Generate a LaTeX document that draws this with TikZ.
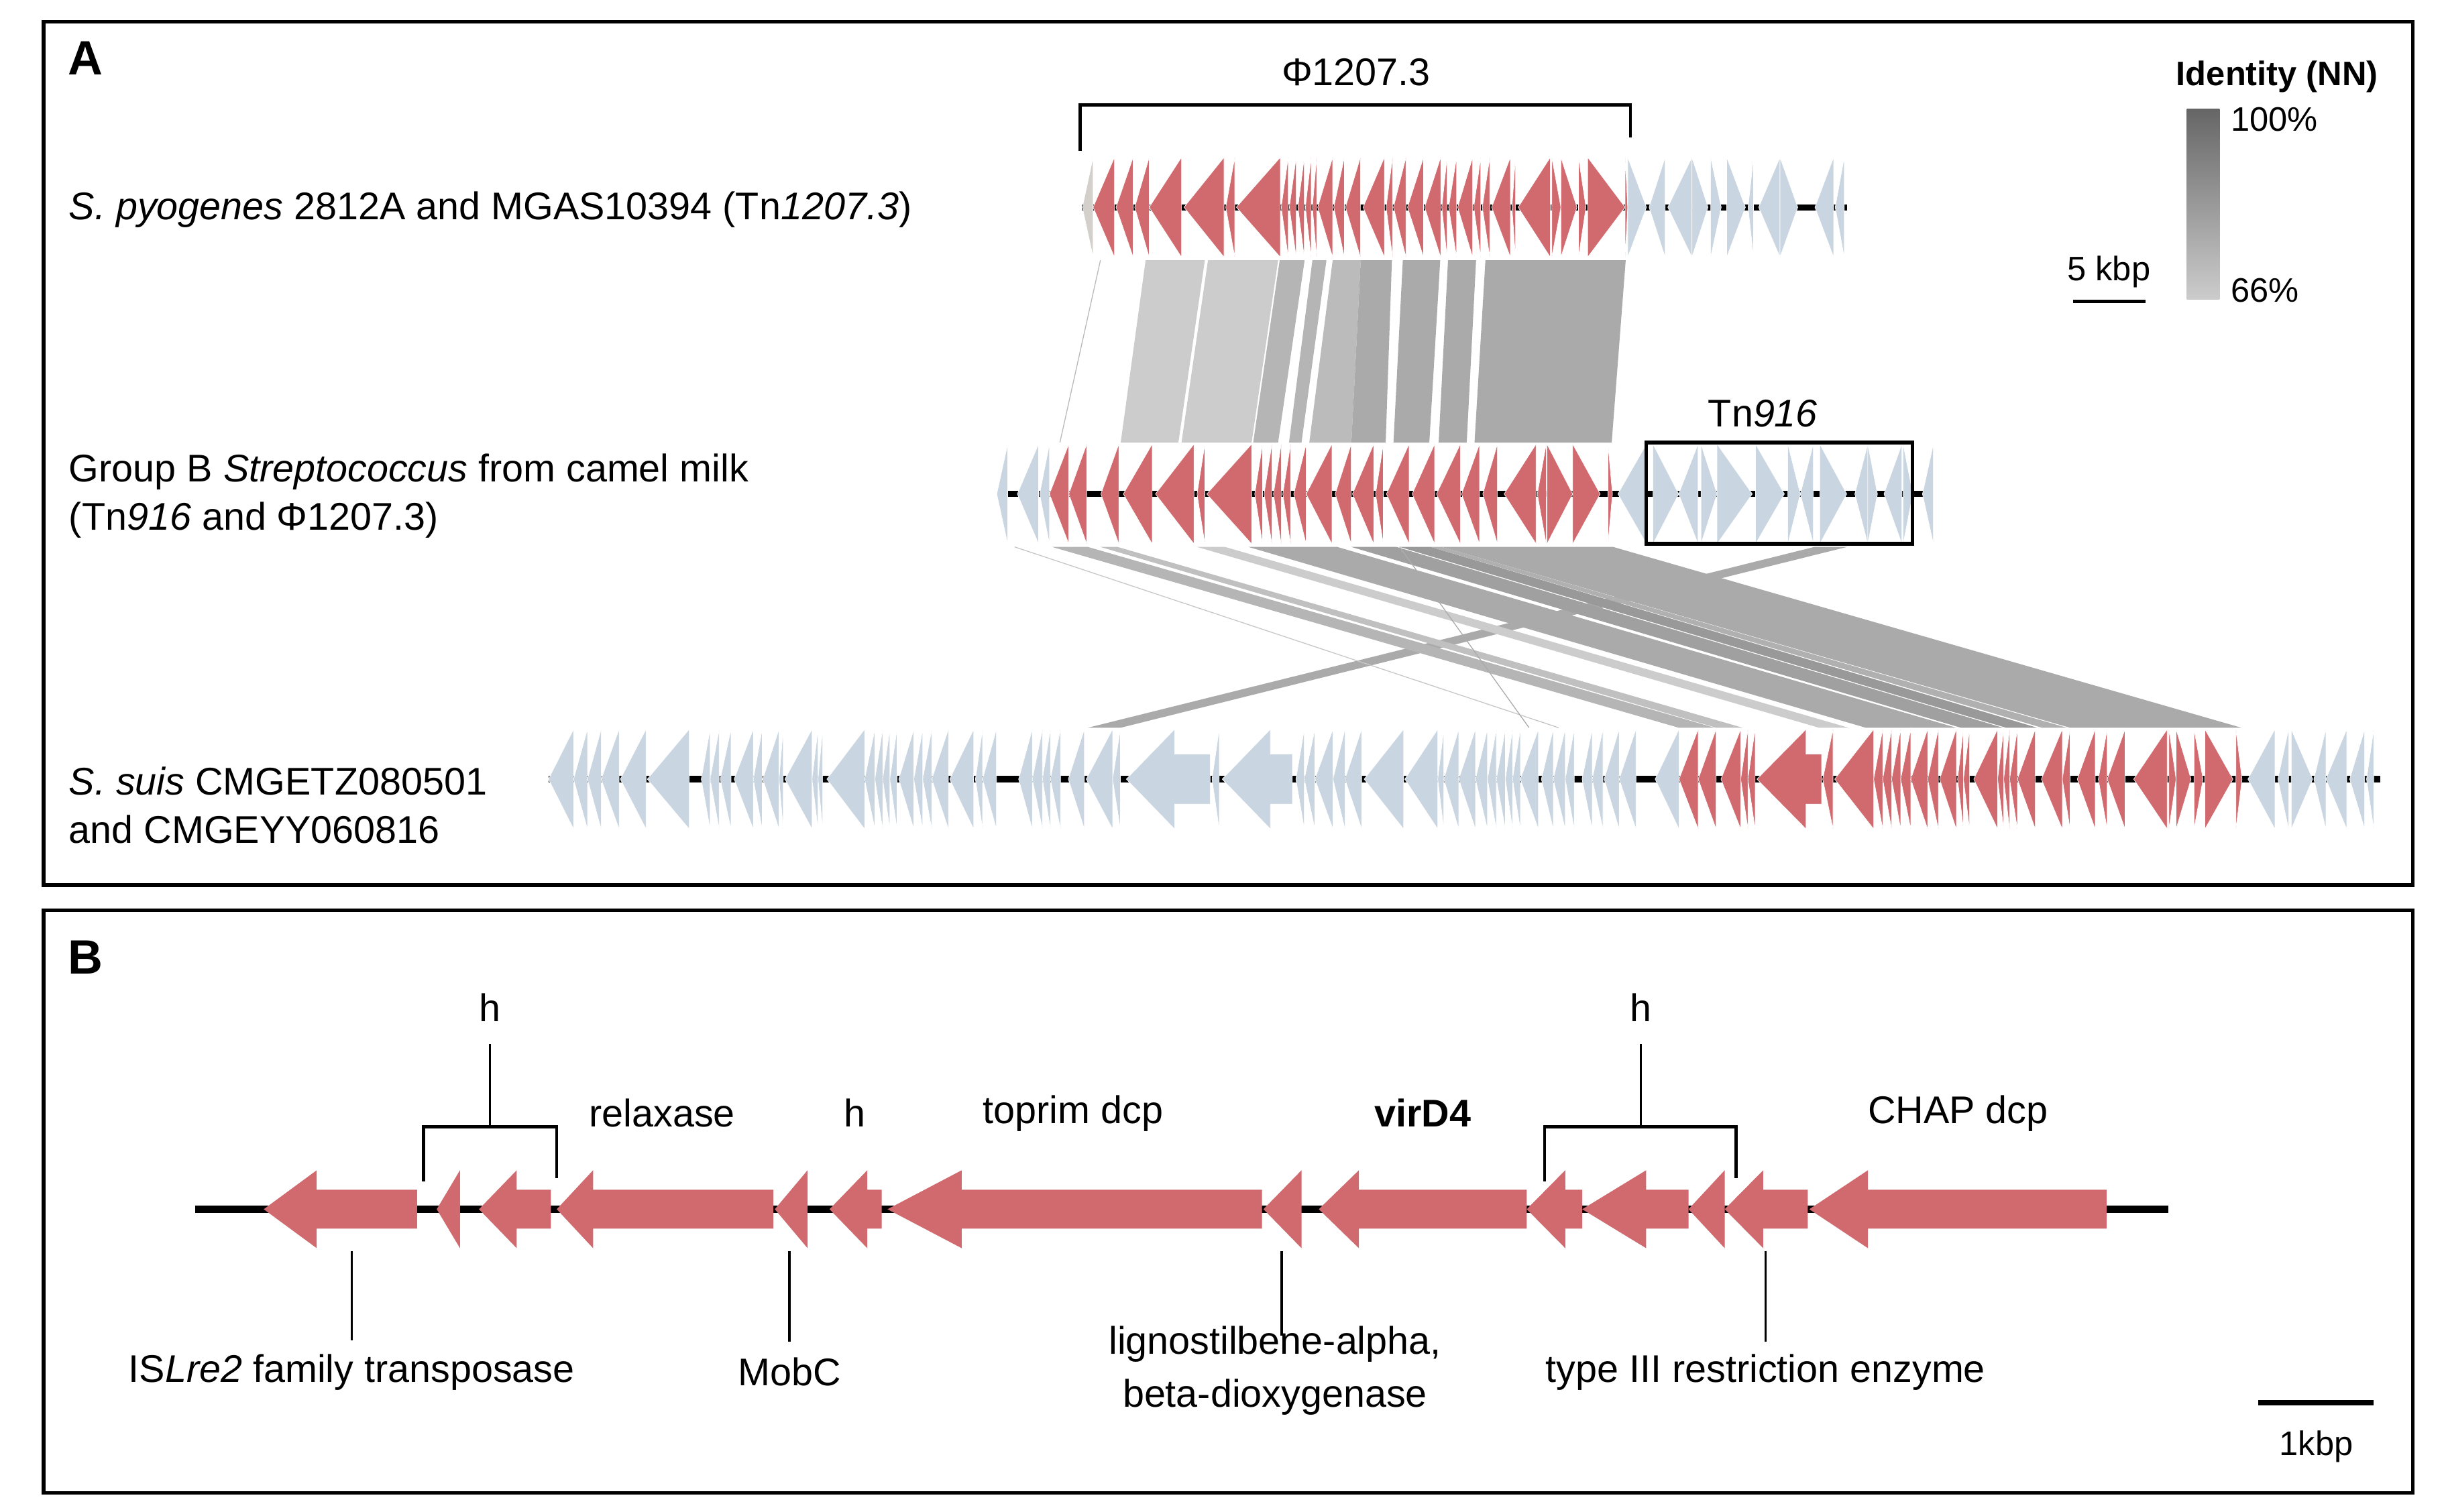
\documentclass[tikz,border=0pt]{standalone}
\usepackage{fontspec}
\setmainfont{Liberation Sans}
\usetikzlibrary{positioning}
\definecolor{genered}{HTML}{D06A6E}
\definecolor{geneblue}{HTML}{C9D5E0}
\definecolor{genegrey}{HTML}{D3D0CB}
\definecolor{idhi}{HTML}{666666}
\definecolor{idlo}{HTML}{CCCCCC}
\begin{document}
\begin{tikzpicture}[x=0.25mm, y=-0.25mm,
        lab/.style = {font=\fontsize{17.6}{21}\selectfont, inner sep=0pt},
        leg/.style = {font=\fontsize{15.5}{18}\selectfont, inner sep=0pt},
        panel/.style = {font=\fontsize{22}{26}\selectfont\bfseries, inner sep=0pt},
        frame/.style = {draw, line width=1.6pt},
        genome/.style = {line width=2.8pt},
        redg/.style = {fill=genered, draw=white, line width=0.2pt},
        blueg/.style = {fill=geneblue, draw=white, line width=0.2pt},
        greyg/.style = {fill=genegrey, draw=white, line width=0.2pt},
        armg/.style = {fill=genered},
        brace/.style = {line width=1.4pt},
        tick/.style = {line width=1pt}]
        \useasboundingbox (0,0) rectangle (1568,970);

        \draw[frame] (28,14) rectangle (1548,568);
        \draw[frame] (28,584) rectangle (1548,958);
        \node[panel, anchor=base] (pa) at (55,48) {A};
        \node[panel, anchor=base] (pb) at (55,625) {B};

        \node[lab, anchor=base west] (spyo) at (44,141) {\textit{S. pyogenes} 2812A and MGAS10394 (Tn\textit{1207.3})};
        \node[lab, anchor=base west] (gbs1) at (44,309) {Group B \textit{Streptococcus} from camel milk};
        \node[lab, anchor=base west] (gbs2) at (44,340) {(Tn\textit{916} and Φ1207.3)};
        \node[lab, anchor=base west] (suis1) at (44,510) {\textit{S. suis} CMGETZ080501};
        \node[lab, anchor=base west] (suis2) at (44,541) {and CMGEYY060816};

        \node[lab, anchor=base] (phi) at (870,55) {Φ1207.3};
        \coordinate (phil) at (693,97);
        \coordinate (phir) at (1046,88);
        \draw[brace] (phil) -- (693,67.4) -- (1046,67.4) -- (phir);

        \node[leg, anchor=base] (ident) at (1461,55) {\textbf{Identity (NN)}};
        \shade[top color=idhi, bottom color=idlo] (1403,70) rectangle (1424,192);
        \node[leg, anchor=base west] (hi) at (1431,84) {100\%};
        \node[leg, anchor=base west] (lo) at (1431,194) {66\%};
        \node[leg, anchor=base] (kb5) at (1353,180) {5 kbp};
        \coordinate (kb5a) at (1330,193.5);
        \coordinate (kb5b) at (1376.5,193.5);
        \draw[brace] (kb5a) -- (kb5b);

        \foreach \ta/\tb/\ba/\bb/\c in {735/773/719/756/CCCCCC, 775/820/758/803/CCCCCC,
                821/837/804/820/B5B5B5, 842/851/827/835/B5B5B5, 855/873/840/867/BBBBBB,
                873/893/867/889/AAAAAA, 900/924/894/917/AAAAAA, 929/947/923/941/AAAAAA,
                953/1043/946/1034/AAAAAA}{
            \definecolor{lnk}{HTML}{\c}
            \fill[lnk] (\ta,167) -- (\tb,167) -- (\bb,284) -- (\ba,284) -- cycle;
        }
        \draw[line width=0.4pt, black!27] (706,167) -- (680,284);

        \foreach \ta/\tb/\ba/\bb/\c in {1164/1185/698/719/AAAAAA, 675/698/1077/1100/B5B5B5,
                706/717/1101/1118/C0C0C0, 768/786/1167/1186/CCCCCC, 801/858/1197/1255/AAAAAA,
                867/896/1258/1285/A0A0A0, 898/918/1287/1307/999999, 918/925/1310/1326/B0B0B0,
                925/1035/1328/1438/AAAAAA}{
            \definecolor{lnk}{HTML}{\c}
            \fill[lnk] (\ta,351) -- (\tb,351) -- (\bb,467) -- (\ba,467) -- cycle;
        }
        \draw[line width=0.4pt, black!22] (651,351) -- (1000,467);
        \draw[line width=0.4pt, black!33] (898,351) -- (981,467);

        \draw[genome] (694,133) -- (1185,133);
        \fill[greyg] (694.4,133) -- (701.3,101) -- (701.3,165) -- cycle;
        \foreach \a/\b in {701.3/715, 716/727, 728/737.3, 737.3/758, 759.6/785.3, 786.4/792.2,
                793.2/821.4, 822/826.5, 827.2/831.6, 832.7/836.8, 837.5/841.2, 842/844.7,
                845.4/855, 855.7/862.5, 863.2/872.8, 874.5/888.2, 889.3/893.4, 894/902,
                903/913.3, 914/924.3, 925/928.4, 929.4/934.5, 935.2/944.8, 945.5/950,
                951/955.8, 957/969, 970/972.3, 974/994.6}
            \fill[redg] (\a,133) -- (\b,101) -- (\b,165) -- cycle;
        \foreach \a/\b in {995.6/1001.4, 1001.4/1011.7, 1012.7/1017.5, 1018.6/1042.6, 1042.6/1044.3}
            \fill[redg] (\a,101) -- (\b,133) -- (\a,165) -- cycle;
        \foreach \a/\b in {1058/1068.3, 1070/1085.5, 1121.5/1125, 1128.3/1142, 1164.4/1176.4, 1177.4/1183.2}
            \fill[blueg] (\a,133) -- (\b,101) -- (\b,165) -- cycle;
        \foreach \a/\b in {1044.3/1056.3, 1085.5/1095.8, 1097.5/1104.3, 1107.8/1119.8, 1142/1153.4}
            \fill[blueg] (\a,101) -- (\b,133) -- (\a,165) -- cycle;

        \draw[genome] (640,317) -- (1240,317);
        \foreach \a/\b in {639.5/646.5, 652.7/666.3, 667/673.3, 1038/1056.3, 1077/1089.4,
                1155/1163.4, 1190/1198.3, 1208.7/1220.2, 1233.4/1240.4}
            \fill[blueg] (\a,317) -- (\b,285) -- (\b,349) -- cycle;
        \foreach \a/\b in {1060.5/1077, 1091.3/1101.6, 1101.6/1124.2, 1126.3/1144.8, 1147/1155,
                1167.5/1184.8, 1198.3/1204.5, 1221/1227.2}
            \fill[blueg] (\a,285) -- (\b,317) -- (\a,349) -- cycle;
        \foreach \a/\b in {673.3/685.7, 685.7/697.2, 706.3/717.8, 720.7/739.2, 741.3/766, 768/773,
                774.2/803, 805/810, 811/816, 817/822, 823/828, 830/838, 838/854.5, 856.6/866.9,
                867.7/881.3, 882.5/887.5, 889.5/904, 906/920.4, 921.6/936.9, 937.7/949.2,
                951.3/960.7, 965/985.5, 986.3/992}
            \fill[redg] (\a,317) -- (\b,285) -- (\b,349) -- cycle;
        \foreach \a/\b in {992.5/1009, 1009/1026.6, 1031.6/1034.5}
            \fill[redg] (\a,285) -- (\b,317) -- (\a,349) -- cycle;
        \node[lab, anchor=base] (tn) at (1131,274) {Tn\textit{916}};
        \draw[frame] (1056,284) rectangle (1227,349);

        \draw[genome] (352,500) -- (1527,500);
        \foreach \a/\b in {351.9/368, 368/376.9, 376.9/385.7, 385.7/397.2, 398/414.5, 415.3/442.2,
                449.9/455.6, 455.6/461.4, 462.1/469, 471/483.3, 483.3/489, 489.4/499.8,
                499.8/502.5, 503.6/521, 521/524.8, 524.8/527.8, 530.5/554.7, 554.7/561.3,
                561.3/566.3, 566.3/570.9, 570.9/575.5, 576.6/586.3, 586.3/592, 592/597.8,
                597.8/608.5, 609.3/624.7, 625.8/630.4, 630.4/639.3, 653.5/662.3, 662.3/668.8,
                668.8/673.9, 673.9/680.4, 685.4/695.7, 696.9/713.8, 713.8/718.8, 777.6/782.2,
                831.4/836.8, 836.8/843.6, 843.6/855.2, 855.2/862.9, 862.9/873.6, 875.2/900.5,
                901.3/922.4, 922.4/926.3, 926.3/935.9, 935.9/946.6, 946.6/954.3, 954.3/960,
                960/965.8, 965.8/970.4, 970.4/975.4, 975.4/987, 988.9/996.5, 996.5/1004.2,
                1004.2/1010, 1015/1021.5, 1021.5/1028.4, 1029.2/1038.8, 1038.8/1049.6,
                1061.9/1077.2, 1442.2/1459.5, 1461.4/1468.3, 1484.5/1492.2, 1492.2/1505.6,
                1507.5/1517.1, 1518.3/1522.9}
            \fill[blueg] (\a,500) -- (\b,468) -- (\b,532) -- cycle;
        \fill[blueg] (1470,468) -- (1483.7,500) -- (1470,532) -- cycle;
        \foreach \a/\b in {722.6/776.4, 784.1/829.1}
            \fill[blueg] (\a,500) -- (\a+31,468) -- (\a+31,484) -- (\b,484) -- (\b,516) -- (\a+31,516) -- (\a+31,532) -- cycle;
        \foreach \a/\b in {1077.2/1089.5, 1089.5/1101, 1104.1/1116.8, 1116.8/1121.4, 1121.4/1126,
                1169.4/1176, 1177.1/1202.1, 1202.1/1207.9, 1207.9/1213.6, 1213.6/1219.4,
                1219.4/1225.9, 1225.9/1236.7, 1236.7/1243.6, 1244.4/1255.1, 1255.9/1259.7,
                1259.7/1263.6, 1266.3/1281.6, 1281.6/1285.5, 1285.5/1289.3, 1289.3/1294.3,
                1294.3/1305.8, 1309.7/1323.1, 1323.1/1328.1, 1332.7/1344.2, 1346.2/1351.9,
                1351.9/1363.4, 1368.9/1390.4}
            \fill[redg] (\a,500) -- (\b,468) -- (\b,532) -- cycle;
        \fill[redg] (1127.2,500) -- (1158.7,468) -- (1158.7,484) -- (1168.7,484) -- (1168.7,516) -- (1158.7,516) -- (1158.7,532) -- cycle;
        \foreach \a/\b in {1391.5/1396.1, 1396.1/1405.7, 1407.6/1413.4, 1414.6/1432.6, 1434.5/1438.4}
            \fill[redg] (\a,468) -- (\b,500) -- (\a,532) -- cycle;

        \draw[line width=3.6pt] (125,776) -- (1391,776);
        \foreach \t/\h/\e in {169.2/203.2/267.6, 280.2/295.1/295.1, 307.3/331.5/353.4,
                357.2/380.5/496.2, 497.1/518.1/518.1, 532.2/556.4/565.7, 569.4/617/809.7,
                810.6/835/835, 846.1/871.8/979.5, 979.5/1004.2/1015.1, 1015.1/1056.1/1083.3,
                1083.3/1106.5/1106.5, 1106.5/1131.2/1159.8, 1160.8/1198.4/1351.5}
            \fill[armg] (\t,776) -- (\h,751) -- (\h,763.5) -- (\e,763.5) -- (\e,788.5) -- (\h,788.5) -- (\h,801) -- cycle;

        \coordinate (hb1) at (314.3,723);
        \draw[brace] (271.8,758) -- (271.8,723) -- (357.2,723) -- (357.2,756);
        \node[lab, anchor=south, inner ysep=3.5mm] (h1) at (314.3,670) {h};
        \draw[tick] (hb1) -- (h1.south);
        \coordinate (hb2) at (1052.6,723);
        \draw[brace] (990.9,758) -- (990.9,723) -- (1113.9,723) -- (1113.9,756);
        \node[lab, anchor=south, inner ysep=3.5mm] (h2) at (1052.6,670) {h};
        \draw[tick] (hb2) -- (h2.south);

        \node[lab, anchor=base] (relax) at (424.8,723) {relaxase};
        \node[lab, anchor=base] (h3) at (548.5,723) {h};
        \node[lab, anchor=base] (toprim) at (688.4,721) {toprim dcp};
        \node[lab, anchor=base] (vird) at (912.8,723) {\textbf{virD4}};
        \node[lab, anchor=base] (chap) at (1256.2,721) {CHAP dcp};

        \node[lab, anchor=base] (tnp) at (225.6,887) {IS\textit{Lre2} family transposase};
        \node[lab, anchor=base] (mobc) at (506.5,889) {MobC};
        \node[lab, anchor=base] (ligno1) at (818,869) {lignostilbene-alpha,};
        \node[lab, anchor=base] (ligno2) at (818,903) {beta-dioxygenase};
        \node[lab, anchor=base] (rest) at (1132.7,887) {type III restriction enzyme};
        \coordinate (tk1) at (225.6,803);
        \coordinate (tk2) at (506.5,803);
        \coordinate (tk3) at (822.3,803);
        \coordinate (tk4) at (1132.7,803);
        \draw[tick] (tk1) -- (225.6,860);
        \draw[tick] (tk2) -- (506.5,861);
        \draw[tick] (tk3) -- (822.3,857);
        \draw[tick] (tk4) -- (1132.7,861);

        \coordinate (kb1a) at (1449,900);
        \coordinate (kb1b) at (1523,900);
        \draw[line width=2.4pt] (kb1a) -- (kb1b);
        \node[leg, anchor=base] (kb1) at (1486,934) {1kbp};
    \end{tikzpicture}
\end{document}
